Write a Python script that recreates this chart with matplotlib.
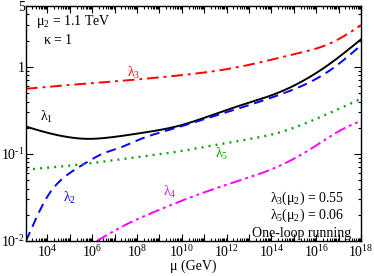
import numpy as np
import matplotlib
matplotlib.use('Agg')
import matplotlib.pyplot as plt
from matplotlib.ticker import LogLocator, FixedLocator, FuncFormatter, NullFormatter

plt.rcParams['font.family'] = ['Liberation Serif', 'DejaVu Serif']
plt.rcParams['mathtext.fontset'] = 'custom'
plt.rcParams['mathtext.rm'] = 'Liberation Serif'
plt.rcParams['mathtext.it'] = 'Liberation Serif'
plt.rcParams['mathtext.bf'] = 'Liberation Serif'
plt.rcParams['font.size'] = 10

# renormalisation scale: log10(mu / GeV), couplings
lam1_logmu = [3.04, 4.0, 5.0, 5.75, 6.5, 8.0, 9.92, 12.15, 14.38, 16.62, 18.0]
lam1_val = [0.206, 0.175, 0.155, 0.149, 0.152, 0.171, 0.212, 0.33, 0.514, 1.09, 2.07]

lam2_logmu = [3.04, 3.44, 3.97, 4.56, 5.14, 5.75, 6.48, 7.24, 8.0, 9.34, 12.15, 14.38, 16.62, 18.0]
lam2_val = [0.010, 0.017, 0.0316, 0.049, 0.064, 0.080, 0.101, 0.118, 0.143, 0.186, 0.31, 0.48, 0.914, 1.77]

lam3_logmu = [3.04, 5.0, 7.55, 9.92, 12.15, 15.13, 16.62, 18.0]
lam3_val = [0.56, 0.62, 0.70, 0.80, 0.955, 1.42, 1.86, 3.0]

lam4_logmu = [6.20, 7.39, 8.88, 10.37, 12.2, 14.38, 15.87, 17.07, 18.0]
lam4_val = [0.010, 0.0149, 0.0222, 0.0316, 0.046, 0.0733, 0.119, 0.186, 0.24]

lam5_logmu = [3.04, 5.9, 8.0, 9.62, 12.15, 14.38, 16.17, 18.0]
lam5_val = [0.066, 0.078, 0.092, 0.1045, 0.136, 0.177, 0.264, 0.43]


def spline(logx, vals, n=400):
    # natural cubic spline through the read points, in log-log space
    x = np.asarray(logx, float)
    y = np.log10(vals)
    m = len(x)
    h = np.diff(x)
    A = np.zeros((m, m))
    b = np.zeros(m)
    A[0, 0] = A[-1, -1] = 1
    for i in range(1, m - 1):
        A[i, i - 1] = h[i - 1]
        A[i, i] = 2 * (h[i - 1] + h[i])
        A[i, i + 1] = h[i]
        b[i] = 6 * ((y[i + 1] - y[i]) / h[i] - (y[i] - y[i - 1]) / h[i - 1])
    M = np.linalg.solve(A, b)
    xs = np.linspace(x[0], x[-1], n)
    j = np.clip(np.searchsorted(x, xs) - 1, 0, m - 2)
    t0 = x[j + 1] - xs
    t1 = xs - x[j]
    ys = (M[j] * t0 ** 3 + M[j + 1] * t1 ** 3) / (6 * h[j]) \
        + (y[j] / h[j] - M[j] * h[j] / 6) * t0 + (y[j + 1] / h[j] - M[j + 1] * h[j] / 6) * t1
    return 10 ** xs, 10 ** ys


fig = plt.figure(figsize=(3.74, 2.76), dpi=100)
ax = fig.add_axes([26 / 374, 35 / 276, 335 / 374, 235 / 276])

x, y = spline(lam1_logmu, lam1_val)
ax.plot(x, y, color='black', lw=1.4)
x, y = spline(lam2_logmu, lam2_val)
ax.plot(x, y, color='#0000ff', lw=1.4, dashes=(5, 3))
x, y = spline(lam3_logmu, lam3_val)
ax.plot(x, y, color='#ff0000', lw=1.4, dashes=(6, 2.5, 1.5, 2.5))
x, y = spline(lam4_logmu, lam4_val)
ax.plot(x, y, color='#ff00ff', lw=1.4, dashes=(6, 2, 1.5, 2, 1.5, 2))
x, y = spline(lam5_logmu, lam5_val)
ax.plot(x, y, color='#00a000', lw=1.7, dashes=(0.8, 2.2))

ax.set_xscale('log')
ax.set_yscale('log')
ax.set_xlim(1100, 1e18)
ax.set_ylim(0.01, 5)

ax.xaxis.set_major_locator(FixedLocator([10.0 ** k for k in range(4, 19)]))
ax.xaxis.set_major_formatter(FuncFormatter(
    lambda v, p: r'$10^{%d}$' % round(np.log10(v)) if round(np.log10(v)) % 2 == 0 else ''))
ax.xaxis.set_minor_locator(LogLocator(base=10, subs=np.arange(2, 10), numticks=100))
ax.xaxis.set_minor_formatter(NullFormatter())

ylabels = {0.01: r'$10^{\text{-}2}$', 0.1: r'$10^{\text{-}1}$', 1: '1', 5: '5'}
ax.yaxis.set_major_locator(FixedLocator([0.01, 0.1, 1, 5]))
ax.yaxis.set_major_formatter(FuncFormatter(lambda v, p: ylabels.get(round(v, 2), '')))
ax.yaxis.set_minor_locator(LogLocator(base=10, subs=np.arange(2, 10), numticks=100))
ax.yaxis.set_minor_formatter(NullFormatter())

ax.tick_params(which='both', direction='in', top=True, right=True, width=0.8, labelsize=10)
ax.tick_params(axis='y', pad=1)
ax.tick_params(axis='x', pad=2)
ax.tick_params(which='major', length=5)
ax.tick_params(which='minor', length=2.5)
for s in ax.spines.values():
    s.set_linewidth(1.0)

ax.set_xlabel('μ (GeV)', fontsize=10, labelpad=0)

ax.text(0.03, 0.92, r'$\mu_2$ = 1.1 TeV', transform=ax.transAxes, fontsize=10)
ax.text(0.05, 0.84, r'$\kappa$ = 1', transform=ax.transAxes, fontsize=10)
ax.text(14 / 335, 1 - 115 / 235, r'$\lambda_1$', transform=ax.transAxes, color='black', fontsize=10)
ax.text(101 / 335, 1 - 71 / 235, r'$\lambda_3$', transform=ax.transAxes, color='#ff0000', fontsize=10)
ax.text(37 / 335, 1 - 196 / 235, r'$\lambda_2$', transform=ax.transAxes, color='#0000ff', fontsize=10)
ax.text(137 / 335, 1 - 190 / 235, r'$\lambda_4$', transform=ax.transAxes, color='#ff00ff', fontsize=10)
ax.text(189 / 335, 1 - 152 / 235, r'$\lambda_5$', transform=ax.transAxes, color='#00a000', fontsize=10)

ax.text(0.95, 1 - 192 / 235, r'$\lambda_3(\mu_2)$ = 0.55', transform=ax.transAxes, ha='right', va='center')
ax.text(0.95, 1 - 209 / 235, r'$\lambda_5(\mu_2)$ = 0.06', transform=ax.transAxes, ha='right', va='center')
ax.text(0.97, 1 - 227 / 235, 'One-loop running', transform=ax.transAxes, ha='right', va='center')

fig.savefig('out.png', dpi=100)
